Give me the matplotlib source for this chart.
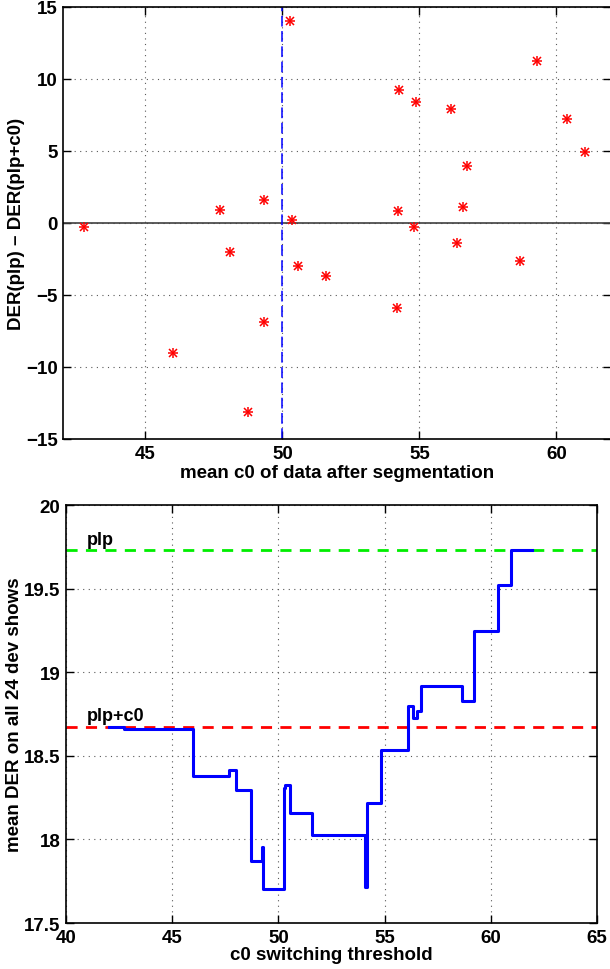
import matplotlib
matplotlib.use("Agg")
import matplotlib.pyplot as plt
from matplotlib.ticker import FormatStrFormatter

plt.rcParams["font.family"] = ["Liberation Sans", "DejaVu Sans"]
plt.rcParams["font.weight"] = "bold"
plt.rcParams["axes.labelweight"] = "bold"

# top: per-show DER difference vs mean c0
mean_c0 = [50.27, 42.76, 47.71, 49.31, 50.36, 59.30, 54.25, 54.88, 56.15, 60.39,
           61.03, 56.73, 54.21, 56.58, 54.81, 48.07, 50.56, 51.60, 49.32, 46.00,
           48.75, 56.39, 58.68, 54.19]
der_diff = [14.03, -0.26, 0.88, 1.62, 0.23, 11.25, 9.26, 8.42, 7.94, 7.22,
            4.95, 3.98, 0.81, 1.11, -0.28, -2.03, -3.01, -3.70, -6.85, -9.03,
            -13.10, -1.41, -2.66, -5.92]
split_c0 = 50

# bottom: mean DER vs switching threshold (step curve)
threshold = [42.04, 42.73, 46.00, 47.69, 48.01, 48.72, 49.25, 49.28, 50.26, 50.30,
             50.53, 51.60, 54.10, 54.17, 54.81, 56.10, 56.32, 56.54, 56.70, 58.64,
             59.21, 60.34, 60.97, 61.94]
mean_der = [18.672, 18.660, 18.379, 18.415, 18.295, 17.873, 17.953, 17.703, 18.31, 18.325,
            18.158, 18.028, 17.715, 18.22, 18.536, 18.80, 18.728, 18.766, 18.919, 18.83,
            19.248, 19.52, 19.729, 19.729]
der_plp = 19.729
der_plp_c0 = 18.672


def matlab_style(ax):
    ax.grid(True, linestyle=(0, (1, 4)), color="0.35", linewidth=0.8)
    ax.tick_params(direction="in", length=6, width=1, top=True, right=True,
                   labelsize=13.5, pad=4)
    for s in ax.spines.values():
        s.set_linewidth(1.2)


fig = plt.figure(figsize=(6.1, 9.7), dpi=100)

ax1 = fig.add_axes([0.1038, 0.5464, 0.898, 0.4454])
ax1.axhline(0, color="0.25", linewidth=1.2)
ax1.axvline(split_c0, color="blue", linestyle=(0, (7, 3)), linewidth=1.1)
# matlab '*' marker = plus + cross
ax1.plot(mean_c0, der_diff, "+", color="red", markersize=7, markeredgewidth=1.1)
ax1.plot(mean_c0, der_diff, "x", color="red", markersize=5.5, markeredgewidth=1.1)
ax1.set_xlim(42, 62)
ax1.set_ylim(-15, 15)
ax1.set_xticks([45, 50, 55, 60])
ax1.set_yticks([-15, -10, -5, 0, 5, 10, 15])
ax1.set_xlabel("mean c0 of data after segmentation", fontsize=13.5, labelpad=2)
ax1.set_ylabel("DER(plp) \u2013 DER(plp+c0)", fontsize=13.5, labelpad=1)
matlab_style(ax1)

ax2 = fig.add_axes([0.1082, 0.0474, 0.8705, 0.4309])
ax2.axhline(der_plp, color="#00ee00", linestyle=(0, (4, 3)), linewidth=2)
ax2.axhline(der_plp_c0, color="red", linestyle=(0, (4, 3)), linewidth=2)
ax2.step(threshold, mean_der, where="post", color="blue", linewidth=2.2)
ax2.text(41.0, der_plp + 0.04, "plp", fontsize=13, va="baseline")
ax2.text(41.0, der_plp_c0 + 0.045, "plp+c0", fontsize=13, va="baseline")
ax2.set_xlim(40, 65)
ax2.set_ylim(17.5, 20)
ax2.set_xticks([40, 45, 50, 55, 60, 65])
ax2.set_yticks([17.5, 18, 18.5, 19, 19.5, 20])
ax2.yaxis.set_major_formatter(FormatStrFormatter("%g"))
ax2.set_xlabel("c0 switching threshold", fontsize=13.5, labelpad=0)
ax2.set_ylabel("mean DER on all 24 dev shows", fontsize=13.5, labelpad=1)
matlab_style(ax2)

fig.savefig("out.png", dpi=100)
